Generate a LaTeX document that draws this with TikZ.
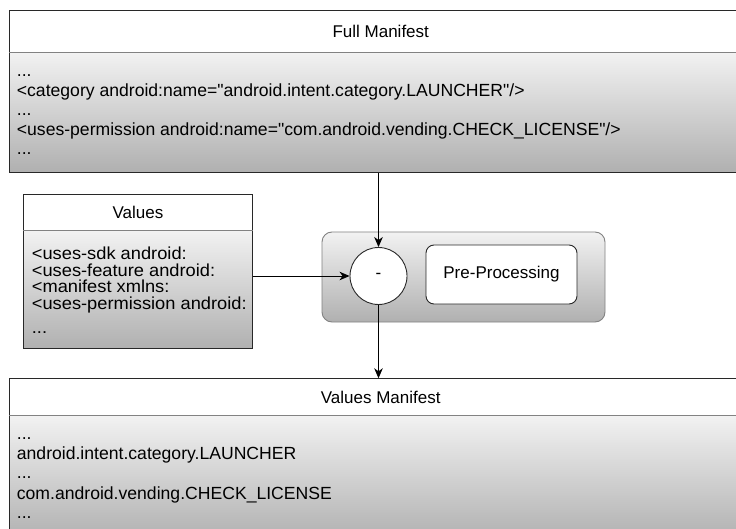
\documentclass[tikz,border=0pt]{standalone}
\usepackage{fontspec}
\setmainfont{Liberation Sans}[Ligatures=TeXOff]
\newfontfamily\valfont[FakeStretch=1.05,Ligatures=TeXOff]{Liberation Sans}
\usetikzlibrary{arrows.meta}
\definecolor{lightg}{RGB}{242,242,242}
\definecolor{darkg}{RGB}{176,176,176}
\definecolor{edge}{RGB}{40,40,40}
\definecolor{divg}{RGB}{130,130,130}
\begin{document}
\begin{tikzpicture}[x=1pt,y=-1pt,
  every node/.style={font=\fontsize{17}{20}\selectfont},
  hdrbox/.style={draw=edge,fill=white,line width=0.9pt,inner sep=0pt,anchor=north west},
  bodybox/.style={draw=edge,line width=0.9pt,inner sep=0pt,anchor=north west,top color=lightg,bottom color=darkg},
  txt/.style={anchor=base west,inner sep=0pt,font=\fontsize{17.6}{20}\selectfont},
  vtxt/.style={anchor=base west,inner sep=0pt,font=\valfont\fontsize{17.4}{16.5}\selectfont},
  arr/.style={draw=black,line width=0.9pt,-{Stealth[length=10pt,width=8.5pt,inset=3pt]}}
]
\useasboundingbox (0,0) rectangle (736,529);
\fill[white] (0,0) rectangle (736,529);
\clip (0,0) rectangle (736,529);

% Full Manifest box
\node[bodybox,minimum width=742,minimum height=120] (fullbody) at (9.3,51.7) {};
\node[hdrbox,minimum width=742,minimum height=41.7] (fullhdr) at (9.3,10) {Full Manifest};
\draw[divg,line width=0.9pt] (fullhdr.south west) -- (fullhdr.south east);
\node[txt] (f1) at (16.7,77) {...};
\node[txt] (f2) at (16.7,96.5) {<category android:name="android.intent.category.LAUNCHER"/>};
\node[txt] (f3) at (16.7,116) {...};
\node[txt] (f4) at (16.7,135.5) {<uses-permission android:name="com.android.vending.CHECK\_LICENSE"/>};
\node[txt] (f5) at (16.7,155) {...};

% Values box
\node[bodybox,minimum width=228.4,minimum height=118.3] (valbody) at (23.3,230) {};
\node[hdrbox,minimum width=228.4,minimum height=35.7] (valhdr) at (23.3,194.3) {Values};
\draw[divg,line width=0.9pt] (valhdr.south west) -- (valhdr.south east);
\node[vtxt] (v1) at (31.7,259.5) {<uses-sdk android:};
\node[vtxt] (v2) at (31.7,276.2) {<uses-feature android:};
\node[vtxt] (v3) at (31.7,292.9) {<manifest xmlns:};
\node[vtxt] (v4) at (31.7,309.6) {<uses-permission android:};
\node[vtxt] (v5) at (31.7,333.3) {...};

% Pre-processing container
\node[draw=divg,line width=0.9pt,rounded corners=10pt,top color=lightg,bottom color=darkg,
      minimum width=283,minimum height=90,inner sep=0pt] (cont) at (463.5,277) {};
\node[draw=edge,fill=white,circle,line width=0.9pt,minimum size=57,inner sep=0pt] (minus) at (378.5,276) {-};
\node[draw=edge,fill=white,line width=0.9pt,rounded corners=8pt,minimum width=151,minimum height=59,inner sep=0pt] (pre) at (501.5,274.5) {Pre-Processing};

% Values Manifest box
\node[bodybox,minimum width=742,minimum height=125] (vmbody) at (9.3,415) {};
\node[hdrbox,minimum width=742,minimum height=36.7] (vmhdr) at (9.3,378.3) {Values Manifest};
\draw[divg,line width=0.9pt] (vmhdr.south west) -- (vmhdr.south east);
\node[txt] (m1) at (16.7,439) {...};
\node[txt] (m2) at (16.7,459) {android.intent.category.LAUNCHER};
\node[txt] (m3) at (16.7,478.5) {...};
\node[txt] (m4) at (16.7,499.5) {com.android.vending.CHECK\_LICENSE};
\node[txt] (m5) at (16.7,518) {...};

% connectors
\draw[arr] (fullbody.south -| minus) -- (minus.north);
\draw[arr] (valbody.east |- minus) -- (minus.west);
\draw[arr] (minus.south) -- (vmhdr.north -| minus);
\end{tikzpicture}
\end{document}
